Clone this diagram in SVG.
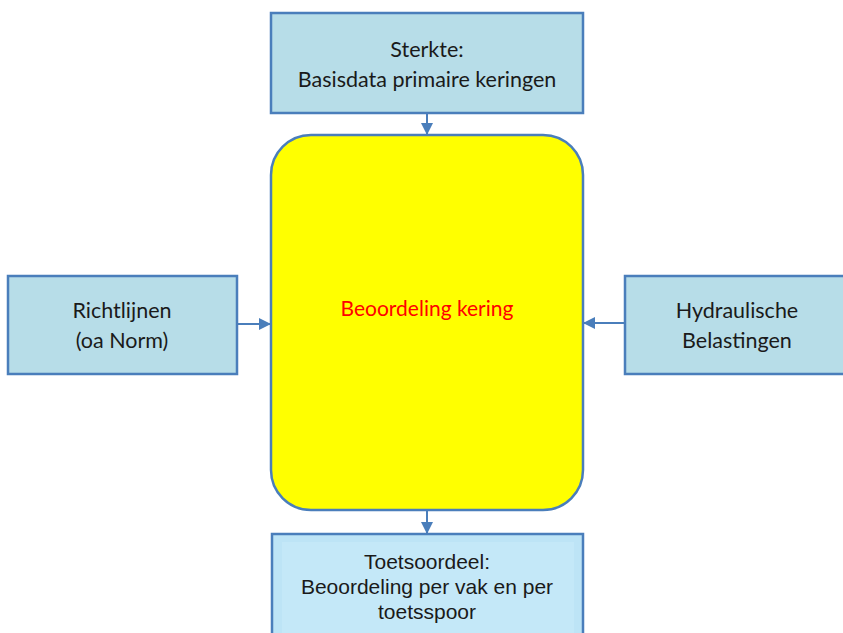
<svg xmlns="http://www.w3.org/2000/svg" width="843" height="633" viewBox="0 0 843 633">
  <style>
    .box { fill: #b7dde8; stroke: #4a7ebb; stroke-width: 2.5; }
    .out { fill: #bde4f6; stroke: #4a7ebb; stroke-width: 2.5; }
    .main { fill: #ffff00; stroke: #4a7ebb; stroke-width: 2.5; }
    .lbl { font-family: Lato, "Open Sans", sans-serif; font-size: 21.5px; fill: #1a1a1a; text-anchor: middle; }
    .lbl2 { font-family: "Liberation Sans", Arial, sans-serif; font-size: 21px; fill: #1a1a1a; text-anchor: middle; }
    .red { font-family: Lato, "Open Sans", sans-serif; font-size: 21px; fill: #ff0000; text-anchor: middle; }
    .conn { stroke: #4a7ebb; stroke-width: 2; fill: none; marker-end: url(#ah); }
  </style>
  <defs>
    <marker id="ah" viewBox="0 0 10 10" refX="10" refY="5" markerWidth="6" markerHeight="6" orient="auto" markerUnits="strokeWidth">
      <path d="M0,0 L10,5 L0,10 z" fill="#4a7ebb"/>
    </marker>
  </defs>
  <rect width="843" height="633" fill="#ffffff"/>

  <g id="connectors">
    <line class="conn" x1="427" y1="113" x2="427" y2="135"/>
    <line class="conn" x1="237" y1="324" x2="271" y2="324"/>
    <line class="conn" x1="625" y1="323" x2="583" y2="323"/>
    <line class="conn" x1="427" y1="510" x2="427" y2="534"/>
  </g>

  <g id="sterkte">
    <rect class="box" x="271" y="13" width="312" height="100"/>
    <text class="lbl" x="427" y="57">Sterkte:</text>
    <text class="lbl" x="427" y="87">Basisdata primaire keringen</text>
  </g>

  <g id="beoordeling">
    <rect class="main" x="271" y="135" width="312" height="375" rx="40" ry="40"/>
    <text class="red" x="427" y="316">Beoordeling kering</text>
  </g>

  <g id="richtlijnen">
    <rect class="box" x="8" y="276" width="229" height="98"/>
    <text class="lbl" x="122" y="318">Richtlijnen</text>
    <text class="lbl" x="122" y="348">(oa Norm)</text>
  </g>

  <g id="hydraulisch">
    <rect class="box" x="625" y="276" width="230" height="98"/>
    <text class="lbl" x="737" y="318">Hydraulische</text>
    <text class="lbl" x="737" y="348">Belastingen</text>
  </g>

  <g id="toetsoordeel">
    <rect class="out" x="272" y="534" width="311" height="110"/>
    <rect x="282" y="542" width="292" height="100" fill="#c4e8f8"/>
    <text class="lbl2" x="427" y="569">Toetsoordeel:</text>
    <text class="lbl2" x="427" y="594">Beoordeling per vak en per</text>
    <text class="lbl2" x="427" y="619">toetsspoor</text>
  </g>
</svg>
